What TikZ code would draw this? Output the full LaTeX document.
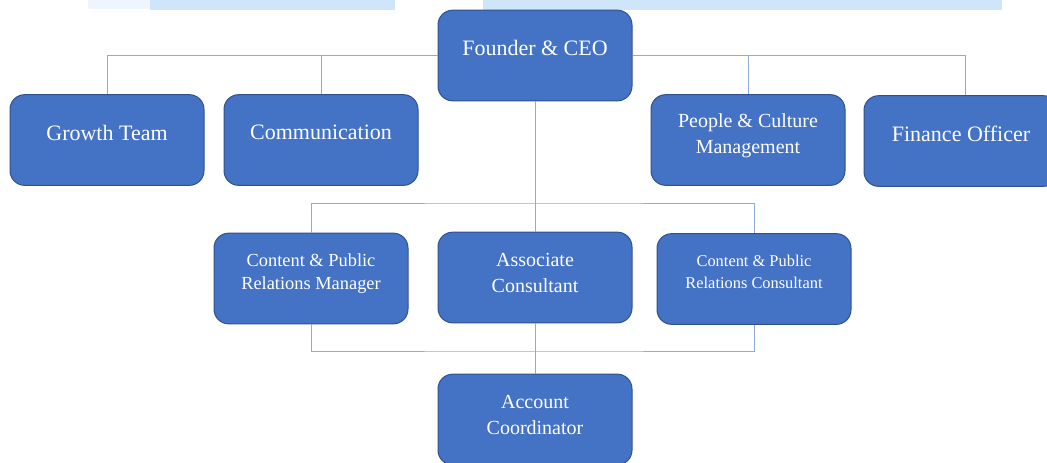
\documentclass[tikz,border=0pt]{standalone}
\usepackage{fontspec}
\setmainfont{Liberation Serif}
\definecolor{boxblue}{HTML}{4472C4}
\definecolor{boxedge}{HTML}{2F528F}
\definecolor{linkblue}{HTML}{8FAADC}
\definecolor{barblue}{HTML}{CFE6FA}
\definecolor{barfaint}{HTML}{EEF5FC}
\tikzset{
	unit/.style={shape=rectangle,rounded corners=11pt,draw=boxedge,fill=boxblue,line width=0.75pt,minimum width=145.5pt,minimum height=68pt,inner sep=0pt},
	unittext/.style={text=white,align=center,yshift=5.5pt},
	lowtext/.style={unittext,yshift=-2pt},
	big/.style={font=\fontsize{16.5}{20}\selectfont},
	mid/.style={font=\fontsize{15}{19.5}\selectfont},
	small/.style={font=\fontsize{13.8}{17.5}\selectfont},
	tiny/.style={font=\fontsize{12.3}{16.5}\selectfont},
	link/.style={draw=linkblue,line width=0.7pt}
}
\begin{document}
\begin{tikzpicture}[x=0.75pt,y=-0.75pt]
			\clip (0,0) rectangle (1047,462);
			\fill[white] (0,0) rectangle (1047,462);
			% strips at the top edge
			\fill[barfaint] (88,0) rectangle (150,9);
			\fill[barblue] (150,0) rectangle (395,10);
			\fill[barblue] (483,0) rectangle (1002,10);

			\node[unit,label={[unittext,big]center:Founder \& CEO}] (ceo) at (535,55.5) {};
			\node[unit,label={[unittext,big]center:Growth Team}] (growth) at (107,140) {};
			\node[unit,label={[unittext,big]center:Communication}] (comm) at (321,140) {};
			\node[unit,label={[lowtext,mid]center:{People \& Culture\\Management}}] (people) at (748,140) {};
			\node[unit,label={[unittext,big]center:Finance Officer}] (finance) at (961,141) {};
			\node[unit,label={[lowtext,small]center:{Content \& Public\\Relations Manager}}] (manager) at (311,278.5) {};
			\node[unit,label={[lowtext,mid]center:{Associate\\Consultant}}] (assoc) at (535,277.5) {};
			\node[unit,label={[unittext,tiny]center:{Content \& Public\\Relations Consultant}}] (consultant) at (754,279) {};
			\node[unit,label={[lowtext,mid]center:{Account\\Coordinator}}] (account) at (535,419.5) {};

			\coordinate (upbus) at (535,203);
			\coordinate (lowbus) at (535,351);

			\path[link] (ceo.west) -| (growth.north);
			\path[link] (comm.north) -- (comm.north |- ceo.west);
			\path[link] (ceo.east) -| ([xshift=3]finance.north);
			\path[link] (people.north) -- (people.north |- ceo.east);
			\path[link] (ceo.south) -- (assoc.north);
			\path[link] (manager.north) |- (upbus) -| (consultant.north);
			\path[link] (manager.south) |- (lowbus) -| (consultant.south);
			\path[link] (assoc.south) -- (account.north);

		\end{tikzpicture}
\end{document}
